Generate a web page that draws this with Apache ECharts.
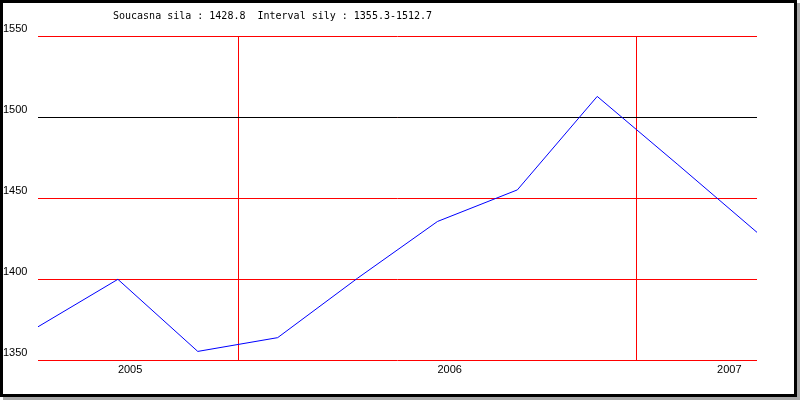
<!DOCTYPE html>
<html>
<head>
<meta charset="utf-8">
<script src="https://cdn.jsdelivr.net/npm/echarts@6/dist/echarts.min.js"></script>
<style>
html,body{margin:0;padding:0;background:#fff;}
#chart{position:absolute;left:0;top:0;width:800px;height:400px;}
#frame{position:absolute;left:0;top:0;width:797px;height:397px;box-sizing:border-box;border:3px solid #000;box-shadow:3px 3px 0 #a8a8a8;pointer-events:none;}
</style>
</head>
<body>
<div id="chart"></div>
<div id="frame"></div>
<script>
// Quarterly values (x = point index)
const values = [1370.5, 1399.8, 1355.3, 1363.8, 1400.5, 1435.5, 1455.0, 1512.7, 1471.0, 1428.8];
// Year labels at x positions
const yearLabelPos = [1, 5, 8.5];
const yearLabels = ['2005', '2006', '2007'];
// Vertical divider positions
const dividers = [2.51, 7.49];
// Y range / ticks
const yMin = 1350, yMax = 1550, yStep = 50;
// Horizontal reference line drawn in black
const blackLines = [1500];
const titleText = 'Soucasna sila : 1428.8  Interval sily : 1355.3-1512.7';

const RED = 'rgb(255,0,0)';
const chart = echarts.init(document.getElementById('chart'), null, {renderer: 'canvas'});

const lineData = [];
dividers.forEach(d => lineData.push({xAxis: d, lineStyle: {color: RED, width: 1, type: 'solid'}}));
blackLines.forEach(t => lineData.push({yAxis: t, lineStyle: {color: '#000000', width: 1, type: 'solid'}}));

const option = {
  animation: false,
  backgroundColor: '#ffffff',
  title: {
    text: titleText,
    left: 108,
    top: 6,
    textStyle: {fontFamily: 'DejaVu Sans Mono', fontSize: 10, fontWeight: 'normal', color: '#000'}
  },
  grid: {left: 38, right: 43, top: 36, bottom: 40},
  xAxis: {
    type: 'value', min: 0, max: values.length - 1, interval: 0.5,
    axisLine: {show: false}, axisTick: {show: false}, splitLine: {show: false},
    axisLabel: {
      align: 'left', margin: 4, fontFamily: 'Liberation Sans', fontSize: 11, color: '#000',
      showMinLabel: true, showMaxLabel: true,
      formatter: function (v) {
        const i = yearLabelPos.indexOf(v);
        return i >= 0 ? yearLabels[i] : '';
      }
    }
  },
  yAxis: {
    type: 'value', min: yMin, max: yMax, interval: yStep,
    axisLine: {show: false}, axisTick: {show: false},
    splitLine: {show: true, lineStyle: {color: RED, width: 1, type: 'solid', opacity: 1}},
    axisLabel: {
      align: 'left', margin: 35, verticalAlign: 'bottom', padding: [0, 0, 2, 0],
      fontFamily: 'Liberation Sans', fontSize: 11, color: '#000',
      formatter: function (v) { return String(v); }
    }
  },
  series: [{
    type: 'line',
    data: values.map((v, i) => [i, v]),
    symbol: 'none',
    z: 5,
    lineStyle: {color: '#0000ff', width: 1},
    itemStyle: {color: '#0000ff'},
    markLine: {
      silent: true, symbol: 'none', label: {show: false}, z: 1,
      emphasis: {disabled: true},
      lineStyle: {color: RED, width: 1, type: 'solid', opacity: 1},
      data: lineData
    }
  }]
};
chart.setOption(option);
</script>
</body>
</html>
